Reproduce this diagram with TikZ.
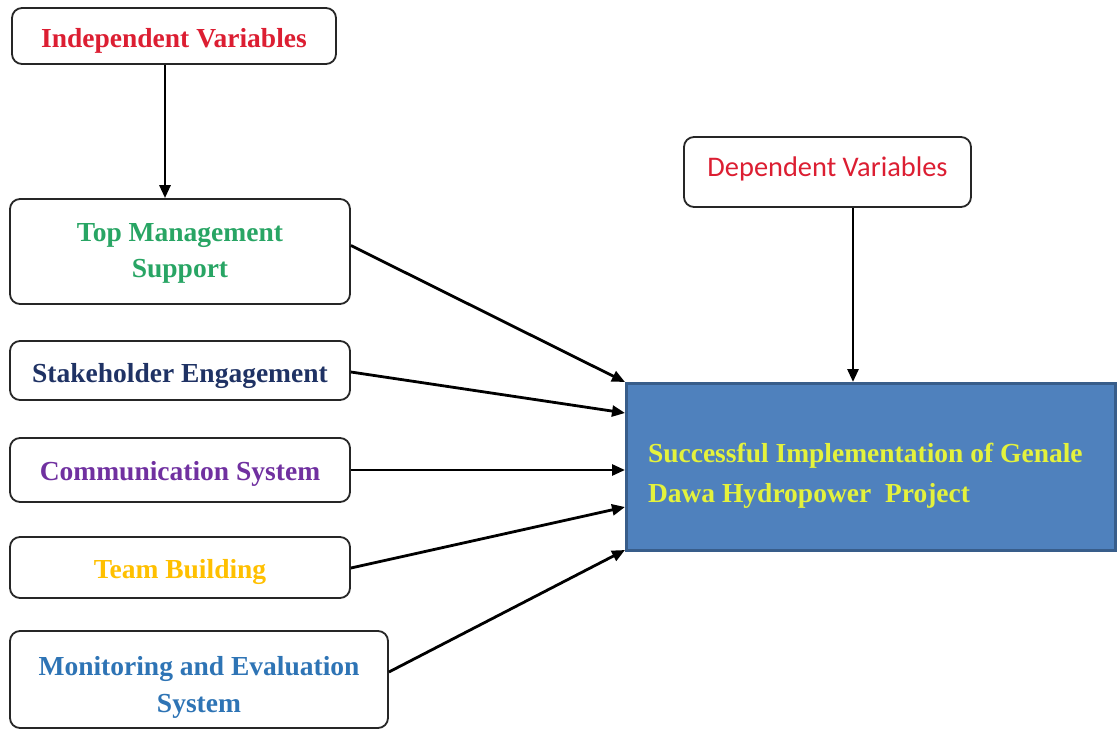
\documentclass[tikz,border=0pt]{standalone}
\usepackage{fontspec}
\setmainfont{Liberation Serif}
\newfontfamily\calib{Carlito}
\usetikzlibrary{arrows.meta,calc}
\definecolor{ivred}{RGB}{220,30,50}
\definecolor{tmsgreen}{RGB}{40,165,100}
\definecolor{sknavy}{RGB}{31,50,100}
\definecolor{cspurple}{RGB}{112,48,160}
\definecolor{tbgold}{RGB}{255,192,0}
\definecolor{mblue}{RGB}{46,116,181}
\definecolor{boxblue}{RGB}{79,129,189}
\definecolor{boxedge}{RGB}{56,93,138}
\definecolor{txtyellow}{RGB}{228,242,60}
\tikzset{
  vbox/.style={draw=black!85, line width=1.8pt, rounded corners=10pt, fill=white,
    inner sep=0pt, align=center, font=\fontsize{27.5}{33}\selectfont\bfseries},
  conn/.style={line width=2.8pt, draw=black, -{Triangle[length=13pt,width=11pt]}},
}
\begin{document}
\begin{tikzpicture}[x=1pt,y=-1pt]
\useasboundingbox (0,0) rectangle (1118,730);
\node[vbox, minimum width=324, minimum height=56, text=ivred, text height=24pt, text depth=0pt] (iv) at (174,36) {Independent Variables};
\node[vbox, minimum width=340, minimum height=105, text=tmsgreen,
  font=\fontsize{27.5}{36}\selectfont\bfseries] (tms) at (180,251.5) {\rule{0pt}{22.5pt}Top Management\\Support};
\node[vbox, minimum width=340, minimum height=59, text=sknavy, text height=23pt, text depth=0pt] (sk) at (180,370.5) {Stakeholder Engagement};
\node[vbox, minimum width=340, minimum height=64, text=cspurple, text height=20pt, text depth=0pt] (cs) at (180,470) {Communication System};
\node[vbox, minimum width=340, minimum height=61, text=tbgold, text height=21pt, text depth=0pt] (tb) at (180,567.5) {Team Building};
\node[vbox, minimum width=378, minimum height=97, text=mblue,
  font=\fontsize{27.5}{37}\selectfont\bfseries] (me) at (199,679.5) {\rule{0pt}{34pt}Monitoring and Evaluation\\System};
\node[vbox, minimum width=287, minimum height=70, text=ivred, text height=8pt, text depth=0pt,
  font=\calib\fontsize{28.4}{34}\selectfont] (dv) at (827.5,172) {Dependent Variables};
\node[draw=boxedge, fill=boxblue, line width=3pt, minimum width=489, minimum height=167,
  inner xsep=21pt, inner ysep=0pt, text width=446pt, align=flush left, text=txtyellow,
  font=\fontsize{27.5}{40}\selectfont\bfseries] (spi) at (871,467)
  {\rule{0pt}{36pt}Successful Implementation of Genale\\Dawa Hydropower\ \ Project};
\draw[conn] (iv.south -| 165,0) -- (tms.north -| 165,0);
\draw[conn] (dv.south -| 853,0) -- (spi.north -| 853,0);
\draw[conn] ($(tms.east)+(0,-6)$) -- (spi.north west);
\draw[conn] ($(sk.east)+(0,1.5)$) -- ($(spi.west)+(0,-54)$);
\draw[conn] (cs.east) -- ($(spi.west)+(0,3)$);
\draw[conn] ($(tb.east)+(0,0.5)$) -- ($(spi.west)+(0,40)$);
\draw[conn] ($(me.east)+(0,-7.5)$) -- ($(spi.south west)+(0,-2)$);
\end{tikzpicture}
\end{document}
